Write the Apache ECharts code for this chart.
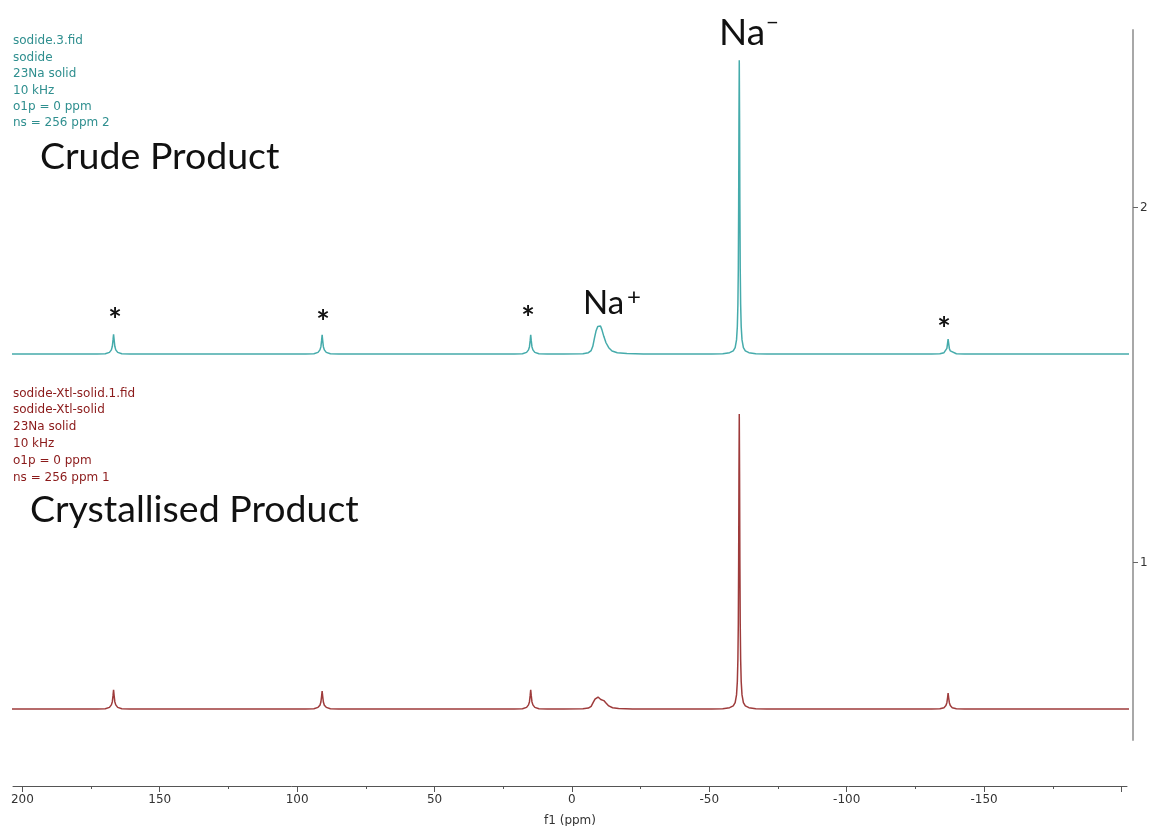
<!DOCTYPE html>
<html><head><meta charset="utf-8">
<script src="https://cdn.jsdelivr.net/npm/echarts@6/dist/echarts.min.js"></script>
<style>html,body{margin:0;padding:0;background:#fff}#c{width:1151px;height:826px}</style>
</head><body><div id="c"></div>
<script>
// ---- data ----
const xTickLabels = [200, 150, 100, 50, 0, -50, -100, -150];
const xMajorTicks = [200, 150, 100, 50, 0, -50, -100, -150, -200];
const xMinorTicks = [175, 125, 75, 25, -25, -75, -125, -175];
const yTickLabels = [1, 2];
const crudeOffset = 1.587;
const xtlOffset = 0.587;

const crudeSpectrum = [
  [205,0],
  [172.8,0],[169.8,0.001],[168.3,0.005],[167.6,0.012],[167.25,0.022],[167.0,0.04],[166.8,0.056],[166.6,0.04],[166.35,0.022],[166.0,0.012],[165.3,0.005],[163.8,0.001],[160.8,0],
  [96.9,0],[93.9,0.001],[92.4,0.005],[91.7,0.012],[91.35,0.021],[91.1,0.038],[90.9,0.054],[90.7,0.038],[90.45,0.021],[90.1,0.012],[89.4,0.005],[87.9,0.001],[84.9,0],
  [21.0,0],[18.0,0.001],[16.5,0.005],[15.8,0.012],[15.45,0.021],[15.2,0.038],[15.0,0.054],[14.8,0.038],[14.55,0.021],[14.2,0.012],[13.5,0.005],[12.0,0.001],[9.0,0],
  [3,0],[-4,0.001],[-6,0.004],[-7.0,0.010],[-7.6,0.022],[-8.2,0.045],[-8.8,0.066],[-9.4,0.078],[-9.9,0.082],[-10.4,0.079],[-10.9,0.069],[-11.6,0.050],[-12.4,0.032],[-13.4,0.018],[-14.6,0.009],[-16.5,0.004],[-20,0.0015],[-26,0],
  [-50.9,0],[-54.9,0.001],[-57.4,0.004],[-58.7,0.009],[-59.4,0.018],[-59.9,0.040],[-60.2,0.078],[-60.4,0.14],[-60.55,0.24],[-60.68,0.42],[-60.79,0.66],[-60.9,0.828],[-61.01,0.66],[-61.12,0.42],[-61.25,0.24],[-61.4,0.14],[-61.6,0.078],[-61.9,0.040],[-62.4,0.018],[-63.1,0.009],[-64.4,0.004],[-66.9,0.001],[-70.9,0],
  [-130.9,0],[-133.9,0.001],[-135.4,0.004],[-136.1,0.009],[-136.45,0.016],[-136.7,0.03],[-136.9,0.042],[-137.1,0.03],[-137.35,0.016],[-137.7,0.009],[-138.4,0.004],[-139.9,0.001],[-142.9,0],
  [-205,0]
];

const xtlSpectrum = [
  [205,0],
  [172.8,0],[169.8,0.001],[168.3,0.005],[167.6,0.012],[167.25,0.021],[167.0,0.038],[166.8,0.054],[166.6,0.038],[166.35,0.021],[166.0,0.012],[165.3,0.005],[163.8,0.001],[160.8,0],
  [96.9,0],[93.9,0.001],[92.4,0.005],[91.7,0.011],[91.35,0.020],[91.1,0.036],[90.9,0.051],[90.7,0.036],[90.45,0.020],[90.1,0.011],[89.4,0.005],[87.9,0.001],[84.9,0],
  [21.0,0],[18.0,0.001],[16.5,0.005],[15.8,0.012],[15.45,0.021],[15.2,0.038],[15.0,0.054],[14.8,0.038],[14.55,0.021],[14.2,0.012],[13.5,0.005],[12.0,0.001],[9.0,0],
  [3,0],[-4,0.001],[-6,0.003],[-7.0,0.008],[-7.7,0.018],[-8.4,0.028],[-9.0,0.033],[-9.5,0.034],[-10.0,0.031],[-10.5,0.027],[-11.0,0.026],[-11.6,0.024],[-12.4,0.017],[-13.4,0.009],[-14.8,0.004],[-17,0.0015],[-22,0],
  [-50.9,0],[-54.9,0.001],[-57.4,0.004],[-58.7,0.009],[-59.4,0.018],[-59.9,0.040],[-60.2,0.078],[-60.4,0.14],[-60.55,0.24],[-60.68,0.42],[-60.79,0.66],[-60.9,0.831],[-61.01,0.66],[-61.12,0.42],[-61.25,0.24],[-61.4,0.14],[-61.6,0.078],[-61.9,0.040],[-62.4,0.018],[-63.1,0.009],[-64.4,0.004],[-66.9,0.001],[-70.9,0],
  [-130.9,0],[-133.9,0.001],[-135.4,0.004],[-136.1,0.010],[-136.45,0.018],[-136.7,0.032],[-136.9,0.045],[-137.1,0.032],[-137.35,0.018],[-137.7,0.010],[-138.4,0.004],[-139.9,0.001],[-142.9,0],
  [-205,0]
];

const crudeInfo = ['sodide.3.fid', 'sodide', '23Na solid', '10 kHz', 'o1p = 0 ppm', 'ns = 256 ppm 2'];
const xtlInfo = ['sodide-Xtl-solid.1.fid', 'sodide-Xtl-solid', '23Na solid', '10 kHz', 'o1p = 0 ppm', 'ns = 256 ppm 1'];
const crudeTitle = 'Crude Product';
const xtlTitle = 'Crystallised Product';
const xAxisName = 'f1 (ppm)';

// ---- chart ----
const chart = echarts.init(document.getElementById('c'), null, {renderer: 'canvas'});
const smallFont = '"DejaVu Sans", sans-serif';
const bigFont = 'Lato, "Open Sans", sans-serif';
const teal = '#2f8f8f';
const darkRed = '#8b1a1a';

function txt(text, x, y, size) {
  return {
    type: 'text', x: x, y: y, silent: true,
    style: {text: text, fontSize: size, fontFamily: bigFont, fill: '#111', align: 'left', verticalAlign: 'middle'}
  };
}
function star(x, y) {
  return {type: 'text', x: x, y: y, silent: true,
    style: {text: '*', fontFamily: bigFont, fontWeight: 'bold', fontSize: 32, fill: '#111', align: 'center', verticalAlign: 'middle'}};
}

const xBase = {
  type: 'value', inverse: true, min: -202, max: 203.4, position: 'bottom', offset: 46,
  splitLine: {show: false}
};

chart.setOption({
  animation: false,
  backgroundColor: '#fff',
  grid: {left: 13, right: 24, top: 30, bottom: 86, containLabel: false, outerBoundsMode: 'none'},
  xAxis: [
    Object.assign({}, xBase, {
      name: xAxisName, nameLocation: 'middle', nameGap: 29,
      nameTextStyle: {fontFamily: smallFont, fontSize: 12, color: '#333'},
      axisLine: {show: true, onZero: false, lineStyle: {color: '#555', width: 1}},
      axisTick: {show: true, length: 6, customValues: xMajorTicks, lineStyle: {color: '#555'}},
      axisLabel: {show: true, customValues: xTickLabels, fontFamily: smallFont, fontSize: 12, color: '#333', margin: 8}
    }),
    Object.assign({}, xBase, {
      axisLine: {show: false, onZero: false},
      axisTick: {show: true, length: 3, customValues: xMinorTicks, lineStyle: {color: '#555'}},
      axisLabel: {show: false}
    })
  ],
  yAxis: {
    type: 'value', position: 'right', offset: 6, min: 0.5, max: 2.5,
    splitLine: {show: false},
    axisLine: {show: true, onZero: false, lineStyle: {color: '#a8a8a8', width: 2}},
    axisTick: {show: true, length: 5, customValues: yTickLabels, lineStyle: {color: '#666'}},
    axisLabel: {show: true, customValues: yTickLabels, fontFamily: smallFont, fontSize: 12, color: '#333', margin: 7}
  },
  series: [
    {
      name: 'crude', type: 'line', xAxisIndex: 0, showSymbol: false, symbol: 'none', smooth: false, clip: true,
      data: crudeSpectrum.map(p => [p[0], p[1] + crudeOffset]),
      lineStyle: {color: '#45abab', width: 1.5}
    },
    {
      name: 'xtl', type: 'line', xAxisIndex: 0, showSymbol: false, symbol: 'none', smooth: false, clip: true,
      data: xtlSpectrum.map(p => [p[0], p[1] + xtlOffset]),
      lineStyle: {color: '#9e3b3b', width: 1.5}
    }
  ],
  graphic: [
    {type: 'text', x: 13, y: 33, silent: true, style: {text: crudeInfo.join('\n'), fontFamily: smallFont, fontSize: 12, lineHeight: 16.4, fill: teal, verticalAlign: 'top'}},
    {type: 'text', x: 13, y: 385, silent: true, style: {text: xtlInfo.join('\n'), fontFamily: smallFont, fontSize: 12, lineHeight: 16.8, fill: darkRed, verticalAlign: 'top'}},
    txt(crudeTitle, 40, 157, 37.5),
    txt(xtlTitle, 30, 510, 37.5),
    txt('Na', 719, 33, 37),
    txt('\u2212', 766, 23, 22),
    txt('Na', 583, 303, 33),
    txt('+', 627, 297, 24),
    star(115, 322), star(323, 324), star(528, 320), star(944, 331)
  ]
});
</script>
</body></html>
